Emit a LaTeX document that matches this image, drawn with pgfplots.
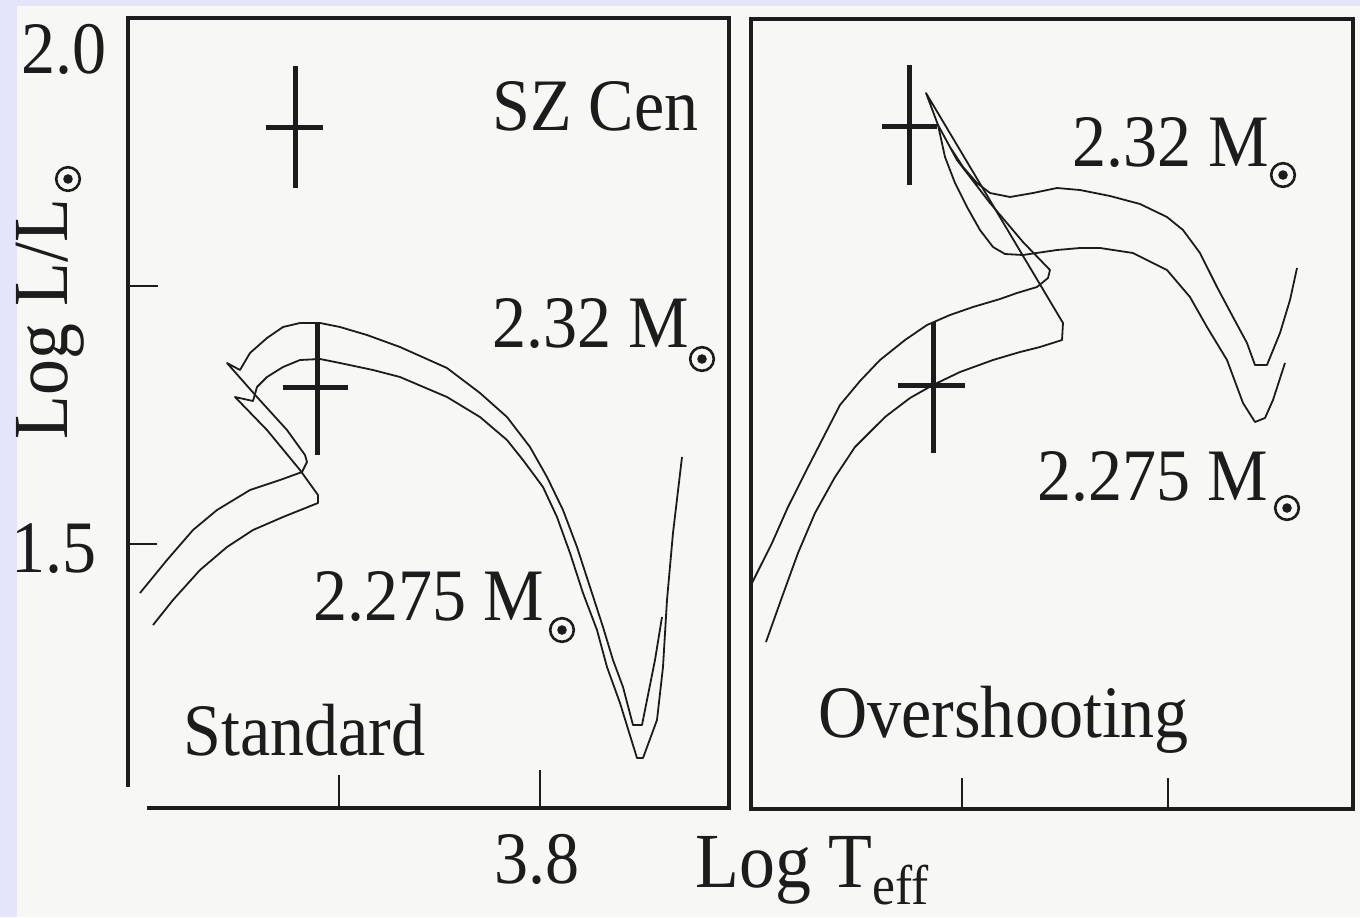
\documentclass[border=0pt]{standalone}
\usepackage{fontspec}
\setmainfont{Liberation Serif}[FakeStretch=0.92]
\usepackage{pgfplots}
\pgfplotsset{compat=1.18}
\definecolor{lav}{RGB}{228,228,250}
\definecolor{paper}{RGB}{247,247,245}
\definecolor{ink}{RGB}{28,28,28}
\newcommand\lbl{\fontsize{37}{40}\selectfont}
\newcommand\axl{\fontsize{39}{42}\selectfont}
\begin{document}
\begin{tikzpicture}
\fill[lav] (0,0) rectangle (680pt,-458.5pt);
\fill[paper] (8.5pt,-3pt) rectangle (680pt,-458.5pt);
\pgfplotsset{
  trk/.style={ink, line width=0.9pt, mark=none, line join=round},
  crossst/.style={draw=none, mark=none,
    error bars/x dir=both, error bars/x explicit,
    error bars/y dir=both, error bars/y explicit,
    error bars/error mark=none,
    error bars/error bar style={line width=2.5pt, draw=ink, line cap=butt}}
}
% ---------------- Standard ----------------
\begin{axis}[at={(64pt,-404pt)}, anchor=south west, scale only axis,
  width=300.5pt, height=395pt,
  xmin=3.75275, xmax=3.903, ymin=1.24419, ymax=2.00969,
  x dir=reverse, hide axis, clip=true]
% 2.32 Msun
\addplot[trk] coordinates {
(3.9000,1.45252) (3.89325,1.48449) (3.88675,1.51356) (3.88075,1.53294)
(3.8725,1.55232) (3.865,1.56201) (3.8595,1.56977) (3.85825,1.57946)
(3.85875,1.58624) (3.86325,1.61046) (3.87075,1.64244) (3.87825,1.67539)
(3.875,1.66861) (3.8725,1.68508) (3.86825,1.69961) (3.86425,1.71027)
(3.86,1.71415) (3.855,1.71415) (3.85,1.71027) (3.84325,1.70252)
(3.835,1.69089) (3.82325,1.67054) (3.815,1.64632) (3.80825,1.62306)
(3.8025,1.59399) (3.79825,1.56492) (3.79425,1.53294) (3.79075,1.49709)
(3.7875,1.45833) (3.78425,1.41957) (3.78175,1.38760) (3.77925,1.36143)
(3.77675,1.32461) (3.7745,1.32461) (3.77325,1.34884) (3.77125,1.38760)
(3.7695,1.42926)};
% 2.275 Msun
\addplot[trk] coordinates {
(3.89675,1.42151) (3.89175,1.44574) (3.885,1.47480) (3.87825,1.49709)
(3.87175,1.51356) (3.86425,1.52616) (3.8555,1.53973) (3.8555,1.54748)
(3.86,1.57170) (3.86825,1.61046) (3.87625,1.64244) (3.87175,1.63856)
(3.87075,1.65213) (3.86825,1.66182) (3.86425,1.67151) (3.86,1.67829)
(3.855,1.67926) (3.85,1.67539) (3.84175,1.66861) (3.835,1.66182)
(3.82325,1.64244) (3.815,1.62306) (3.80825,1.60077) (3.80425,1.58139)
(3.79925,1.55523) (3.79575,1.52616) (3.7925,1.49128) (3.78925,1.45252)
(3.78575,1.41666) (3.78325,1.38081) (3.78,1.34593) (3.77575,1.29264)
(3.77425,1.29264) (3.77075,1.32946) (3.76925,1.38081) (3.76825,1.44574)
(3.76675,1.51066) (3.7645,1.58430)};
% SZ Cen error crosses
\addplot[crossst] coordinates {
(3.861,1.90407) += (0.0075,0.0591) -= (0.00675,0.0591)
(3.8555,1.65213) += (0.00875,0.0620) -= (0.0075,0.0659)};
\end{axis}
% ---------------- Overshooting ----------------
\begin{axis}[at={(375.5pt,-404.5pt)}, anchor=south west, scale only axis,
  width=301pt, height=395.5pt,
  xmin=3.7551, xmax=3.90122, ymin=1.24322, ymax=2.00969,
  x dir=reverse, hide axis, clip=true]
% 2.32 Msun
\addplot[trk] coordinates {
(3.90098,1.46221) (3.89612,1.50097) (3.89224,1.53585) (3.88811,1.5688)
(3.88399,1.60077) (3.87962,1.63469) (3.87476,1.65794) (3.86991,1.67829)
(3.86384,1.69767) (3.8585,1.71221) (3.85292,1.7219) (3.84733,1.72965)
(3.84078,1.7374) (3.83666,1.74322) (3.8318,1.74903) (3.82913,1.75775)
(3.82865,1.7655) (3.8352,1.79263) (3.84321,1.83042) (3.85122,1.87209)
(3.85583,1.90601) (3.85292,1.88469) (3.84976,1.86531) (3.84636,1.8498)
(3.84321,1.84011) (3.83835,1.83624) (3.83277,1.84011) (3.82695,1.84496)
(3.82136,1.84302) (3.81408,1.83721) (3.8068,1.82946) (3.80025,1.81686)
(3.79636,1.80426) (3.79224,1.78197) (3.78811,1.74903) (3.78423,1.71996)
(3.78083,1.69477) (3.77889,1.67345) (3.77598,1.67345) (3.77282,1.70446)
(3.77039,1.73643) (3.76869,1.76744)};
% 2.275 Msun
\addplot[trk] coordinates {
(3.89758,1.40504) (3.89369,1.44864) (3.88981,1.49128) (3.88568,1.53004)
(3.88083,1.56492) (3.87598,1.59399) (3.86869,1.62306) (3.86263,1.64147)
(3.85704,1.65407) (3.85049,1.66666) (3.84248,1.67829) (3.83593,1.68604)
(3.83107,1.69089) (3.82573,1.69767) (3.82549,1.71415) (3.85874,1.93701)
(3.85583,1.90601) (3.85413,1.875) (3.8517,1.8498) (3.84879,1.82655)
(3.84564,1.80426) (3.84248,1.78779) (3.83957,1.78101) (3.8352,1.78004)
(3.82695,1.78488) (3.82136,1.78682) (3.81651,1.78682) (3.8085,1.78197)
(3.80025,1.7655) (3.79467,1.73934) (3.79054,1.71027) (3.78568,1.67829)
(3.7818,1.63663) (3.77889,1.61822) (3.77646,1.62209) (3.77452,1.63953)
(3.77161,1.67539)};
\addplot[crossst] coordinates {
(3.86263,1.90407) += (0.00679,0.06008) -= (0.00656,0.0562)
(3.85704,1.65407) += (0.0085,0.06104) -= (0.00777,0.06589)};
\end{axis}
% ---------------- frames, ticks, texts (pixel coordinates) ----------------
\begin{scope}[x=0.5pt,y=-0.5pt]
\draw[ink, line width=2.3pt, line join=miter] (128,787) -- (128,18) -- (729,18) -- (729,808) -- (147,808);
\draw[ink, line width=2.3pt, line join=miter] (751,19) -- (1353,19) -- (1353,809) -- (751,809) -- cycle;
\draw[ink, line width=1.4pt] (130,286) -- (158,286) (130,544) -- (157,544)
  (339,808) -- (339,775) (540,808) -- (540,770)
  (962,808) -- (962,778) (1168,808) -- (1168,778);
% sun symbols
\foreach \p in {(702,359),(562,630),(1283,175),(1287,508),(68,179)} {
  \draw[ink, line width=1.3pt] \p circle (5.9pt);
  \fill[ink] \p circle (2.4pt);
}
\begin{scope}[every node/.style={inner sep=0pt, text=ink}]
\node[anchor=base west] at (492,130) {\lbl SZ Cen};
\node[anchor=base west] at (492,347) {\lbl 2.32 M};
\node[anchor=base west] at (313,620) {\lbl 2.275 M};
\node[anchor=base west] at (183,755) {\lbl Standard};
\node[anchor=base west] at (1072,166) {\lbl 2.32 M};
\node[anchor=base west] at (1037,500) {\lbl 2.275 M};
\node[anchor=base west] at (818,737) {\lbl Overshooting};
\node[anchor=base east] at (107,73) {\lbl 2.0};
\node[anchor=base east] at (97,572) {\lbl 1.5};
\node[anchor=base] at (537,883) {\lbl 3.8};
\node[anchor=base west] at (695,887) {\axl Log T\raisebox{-8.5pt}{\fontsize{28}{30}\selectfont eff}};
\node[anchor=base west, rotate=90] at (67,440) {\axl Log L/L};
\end{scope}
\end{scope}
\pgfresetboundingbox
\useasboundingbox (0,0) rectangle (680pt,-458.5pt);
\end{tikzpicture}
\end{document}
